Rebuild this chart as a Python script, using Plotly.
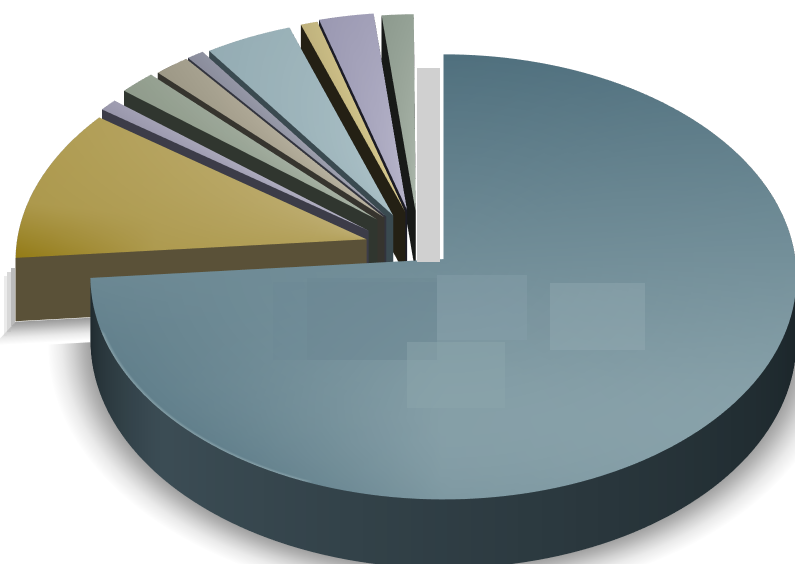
import numpy as np
import plotly.graph_objects as go

# Slice shares in percent, clockwise from twelve o'clock
shares = [73.65, 11.3, 0.9, 1.8, 1.75, 0.85, 4.35, 0.85, 2.75, 1.6]

# How far each slice is pulled out of the pie, sideways and backwards
pull_x = [0.0, -0.22, -0.215, -0.19, -0.17, -0.165, -0.145, -0.11, -0.105, -0.08]
pull_y = [0.0, 0.09, 0.13, 0.18, 0.19, 0.195, 0.2, 0.215, 0.225, 0.215]

top_dark = ["#50707e", "#947c18", "#8a889e", "#84907f", "#8f8a78", "#7d8090", "#8aa3ab", "#b3a674", "#8d8ba6", "#7f8c80"]
top_light = ["#93abb2", "#c2b27a", "#b2b0c2", "#a5b0a2", "#b8b2a0", "#a0a2b0", "#a8bec4", "#d6c88e", "#b4b2c8", "#a8b4a8"]
wall_dark = ["#1a2428", "#544c30", "#2c2c38", "#20261f", "#26241e", "#22242e", "#2a3a40", "#141208", "#101018", "#0c0e0c"]
wall_light = ["#3c4d55", "#5a5138", "#3c3c48", "#30362f", "#36342e", "#32343e", "#3a4a50", "#242014", "#1c1c26", "#181a18"]

THICK = 0.235
RINGS = 24
DEPTH = 0.08  # strength of the foreshortening towards the back of the pie
SCALE = 1.248


def rgb(h):
    return np.array([int(h[i:i + 2], 16) for i in (1, 3, 5)], dtype=float)


def mix(a, b, t):
    c = rgb(a) * (1 - t) + rgb(b) * t
    return "rgb(%d,%d,%d)" % tuple(np.clip(c, 0, 255))


xs, ys, zs, cols, I, J, K = [], [], [], [], [], [], []


def vert(x, y, z, c):
    w = 1 + DEPTH * y
    xs.append(x / w)
    ys.append(y / w)
    zs.append(z / w)
    cols.append(c)
    return len(xs) - 1


def quad(a, b, c, d):
    I.extend([a, a])
    J.extend([b, c])
    K.extend([c, d])


def big_shade(x, y):
    t = 0.5 - 0.5 * y + 0.05 * x
    t -= 1.2 * max(0, -y - 0.5) ** 2
    t -= max(0, -x) * max(0, -y)
    return float(np.clip(t, 0, 1))


def gold_shade(r, u):
    t = 0.72 - 0.25 * r + 0.2 * u - 3.5 * max(0, r - 0.6) * max(0, 0.35 - u)
    return float(np.clip(t, 0, 1))


def big_wall_shade(a):
    if a < 4.0:
        return float(np.clip((a - 1.6) / 2.4, 0, 1))
    return float(np.clip((4.7 - a) / 0.7, 0, 1))


# fade rings of the soft shadow on the ground plane
FADE = [(0.99, "#9a9a9a"), (1.02, "#b4b4b4"), (1.05, "#d2d2d2"), (1.08, "#ebebeb"), (1.12, "#ffffff")]


def ground_arc(ox, oy, angles):
    rows = []
    for r, c in FADE:
        rows.append([vert(ox + r * np.sin(a), oy + r * np.cos(a), -0.002, c) for a in angles])
    for i in range(len(FADE) - 1):
        for j in range(len(angles) - 1):
            quad(rows[i][j], rows[i + 1][j], rows[i + 1][j + 1], rows[i][j + 1])


def ground_edge(ox, oy, a):
    # shadow cast forwards from a straight cut edge
    spots = np.linspace(0.55, 1.0, 5)
    rows = []
    for r, c in FADE:
        w = r - 0.99
        rows.append([vert(ox + s * np.sin(a) - 0.4 * w, oy + s * np.cos(a) - 0.8 * w, -0.002, c) for s in spots])
    for i in range(len(FADE) - 1):
        for j in range(len(spots) - 1):
            quad(rows[i][j], rows[i + 1][j], rows[i + 1][j + 1], rows[i][j + 1])


start = 0.0
for n, share in enumerate(shares):
    sweep = share / 100 * 2 * np.pi
    end = start + sweep
    ox, oy = pull_x[n], pull_y[n]
    steps = max(4, int(share * 2))
    angles = np.linspace(start, end, steps + 1)
    radii = np.r_[np.linspace(0, 0.99, RINGS), 1.0]

    # top face as a polar grid so the gradient can vary across it
    grid = []
    for r in radii:
        row = []
        for a in angles:
            x, y = r * np.sin(a), r * np.cos(a)
            u = (a - start) / sweep
            if n == 0:
                t = big_shade(x, y)
                # pale rim along the front left edge
                if r == 1.0 and 3.5 < a < 4.4:
                    t = 0.85
            elif n == 1:
                t = gold_shade(r, u)
            else:
                t = float(np.clip(0.95 - 0.6 * r + 0.2 * u, 0, 1))
            row.append(vert(ox + x, oy + y, THICK, mix(top_dark[n], top_light[n], t)))
        grid.append(row)
    for i in range(len(radii) - 1):
        for j in range(steps):
            quad(grid[i][j], grid[i + 1][j], grid[i + 1][j + 1], grid[i][j + 1])

    # outer wall
    upper, lower = [], []
    for a in angles:
        x, y = np.sin(a), np.cos(a)
        t = big_wall_shade(a) if n == 0 else 0.5
        c = mix(wall_dark[n], wall_light[n], t)
        upper.append(vert(ox + x, oy + y, THICK, c))
        lower.append(vert(ox + x, oy + y, 0, c))
    for j in range(steps):
        quad(upper[j], lower[j], lower[j + 1], upper[j + 1])

    # the two radial cut faces
    for a in (start, end):
        x, y = np.sin(a), np.cos(a)
        c = wall_light[n]
        p = [vert(ox, oy, THICK, c), vert(ox + x, oy + y, THICK, c),
             vert(ox + x, oy + y, 0, c), vert(ox, oy, 0, c)]
        quad(*p)

    # soft shadows of the two large slices
    if n == 0:
        ground_arc(ox, oy, angles[angles > 1.5])
    if n == 1:
        ground_edge(ox, oy, start)
    start = end

fig = go.Figure(go.Mesh3d(
    x=xs, y=ys, z=zs, i=I, j=J, k=K, vertexcolor=cols, flatshading=False,
    lighting=dict(ambient=1, diffuse=0, specular=0, roughness=1, fresnel=0),
    hoverinfo="skip",
))


def panel(x0, y0, x1, y1, color):
    """Flat translucent panel given in pixel positions of the 795x564 page."""
    fig.add_shape(type="rect", xref="paper", yref="paper", line_width=0, fillcolor=color,
                  x0=x0 / 795, x1=x1 / 795, y0=1 - y1 / 564, y1=1 - y0 / 564)


# grey backdrop strip behind the pulled-out slices
panel(417, 68, 440, 262, "rgba(208,208,208,1)")

# shadow to the left of the gold slice's wall
panel(11, 268, 15, 326, "rgba(170,170,170,0.8)")
panel(7, 272, 11, 332, "rgba(190,190,190,0.6)")
panel(4, 276, 7, 336, "rgba(215,215,215,0.5)")

# soft label panels on the large slice
panel(273, 282, 437, 360, "rgba(105,135,148,0.3)")
panel(307, 278, 437, 360, "rgba(105,130,142,0.25)")
panel(437, 275, 527, 340, "rgba(135,160,170,0.45)")
panel(530, 300, 550, 340, "rgba(125,150,160,0.3)")
panel(550, 283, 645, 350, "rgba(150,172,180,0.4)")
panel(407, 342, 505, 408, "rgba(140,165,172,0.5)")

hidden = dict(visible=False, showgrid=False, zeroline=False, showticklabels=False, title="")
elev = np.radians(40)
d = 1.6
cx, cz = -0.163, 0.0
fig.update_layout(
    width=795, height=564, margin=dict(l=0, r=0, t=0, b=0),
    paper_bgcolor="white", showlegend=False,
    scene=dict(
        domain=dict(x=[0, 1], y=[0, 1]),
        xaxis=dict(hidden, range=[-1.4, 1.4]),
        yaxis=dict(hidden, range=[-1.4, 1.4]),
        zaxis=dict(hidden, range=[-0.2, 0.5]),
        aspectmode="manual", aspectratio=dict(x=2.8 * SCALE, y=2.8 * SCALE, z=0.7 * SCALE),
        camera=dict(
            projection=dict(type="orthographic"),
            up=dict(x=0, y=0, z=1),
            center=dict(x=cx, y=0, z=cz),
            eye=dict(x=cx, y=-d * np.cos(elev), z=cz + d * np.sin(elev)),
        ),
    ),
)
fig.write_html("out.html")
